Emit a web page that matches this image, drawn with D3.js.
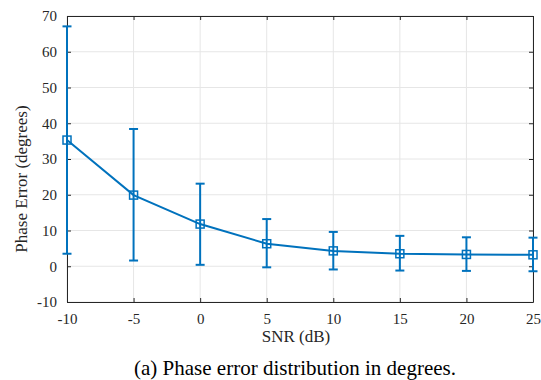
<!DOCTYPE html>
<html>
<head>
<meta charset="utf-8">
<script src="https://cdn.jsdelivr.net/npm/d3@7"></script>
<style>
  body { margin: 0; background: #fff; }
  text { font-family: "Liberation Serif", "Times New Roman", serif; }
</style>
</head>
<body>
<svg id="chart" width="541" height="380"></svg>
<script>
// Phase error vs SNR, mean with error bars
var snr = [-10, -5, 0, 5, 10, 15, 20, 25];
var meanErr = [35.3, 19.9, 11.8, 6.3, 4.3, 3.5, 3.3, 3.2];
var upperErr = [67.1, 38.4, 23.1, 13.2, 9.6, 8.5, 8.1, 8.0];
var lowerErr = [3.5, 1.6, 0.4, -0.3, -0.9, -1.2, -1.3, -1.4];
var xTicks = [-10, -5, 0, 5, 10, 15, 20, 25];
var yTicks = [-10, 0, 10, 20, 30, 40, 50, 60, 70];

var blue = "#0072BD";
var axisColor = "#262626";

var svg = d3.select('#chart');
var plotLeft = 67, plotRight = 533, plotTop = 16, plotBottom = 302;

var x = d3.scaleLinear().domain([-10, 25]).range([plotLeft, plotRight]);
var y = d3.scaleLinear().domain([-10, 70]).range([plotBottom, plotTop]);

var points = snr.map(function (s, i) {
    return { x: s, m: meanErr[i], hi: upperErr[i], lo: lowerErr[i] };
});

// grid
var grid = svg.append('g');
grid.selectAll('line.gx')
    .data(xTicks)
    .enter()
  .append('line')
    .attr('x1', d => x(d)).attr('x2', d => x(d))
    .attr('y1', plotTop).attr('y2', plotBottom)
    .style('stroke', '#e6e6e6')
    .style('stroke-width', 1);
grid.selectAll('line.gy')
    .data(yTicks)
    .enter()
  .append('line')
    .attr('x1', plotLeft).attr('x2', plotRight)
    .attr('y1', d => y(d)).attr('y2', d => y(d))
    .style('stroke', '#e6e6e6')
    .style('stroke-width', 1);

// axes (ticks inward, mirrored on top/right)
var fmt = d => String(d);
var xAxis = d3.axisBottom(x).tickValues(xTicks).tickFormat(fmt).tickSizeInner(-4).tickSizeOuter(0);
var yAxis = d3.axisLeft(y).tickValues(yTicks).tickFormat(fmt).tickSizeInner(-4).tickSizeOuter(0);

var gx = svg.append('g').attr('transform', 'translate(0,' + plotBottom + ')').call(xAxis);
var gy = svg.append('g').attr('transform', 'translate(' + plotLeft + ',0)').call(yAxis);
svg.append('g').attr('transform', 'translate(0,' + plotTop + ')')
    .call(d3.axisTop(x).tickValues(xTicks).tickSizeInner(-4).tickSizeOuter(0).tickFormat(''));
svg.append('g').attr('transform', 'translate(' + plotRight + ',0)')
    .call(d3.axisRight(y).tickValues(yTicks).tickSizeInner(-4).tickSizeOuter(0).tickFormat(''));

svg.selectAll('.domain, .tick line').style('stroke', axisColor);
svg.selectAll('.tick text')
    .style('font-family', '"Liberation Serif", serif')
    .style('font-size', '15px')
    .attr('fill', axisColor);
gx.selectAll('.tick text').attr('dy', null).attr('y', 22);
gy.selectAll('.tick text').attr('x', -10);

// error bars
var capHalf = 4.5;
var bars = svg.append('g');
bars.selectAll('line.bar')
    .data(points)
    .enter()
  .append('line')
    .attr('x1', d => x(d.x)).attr('x2', d => x(d.x))
    .attr('y1', d => y(d.lo)).attr('y2', d => y(d.hi))
    .style('stroke', blue).style('stroke-width', 2);
bars.selectAll('line.capHi')
    .data(points)
    .enter()
  .append('line')
    .attr('x1', d => x(d.x) - capHalf).attr('x2', d => x(d.x) + capHalf)
    .attr('y1', d => y(d.hi)).attr('y2', d => y(d.hi))
    .style('stroke', blue).style('stroke-width', 2);
bars.selectAll('line.capLo')
    .data(points)
    .enter()
  .append('line')
    .attr('x1', d => x(d.x) - capHalf).attr('x2', d => x(d.x) + capHalf)
    .attr('y1', d => y(d.lo)).attr('y2', d => y(d.lo))
    .style('stroke', blue).style('stroke-width', 2);

// mean line
var line = d3.line().x(d => x(d.x)).y(d => y(d.m));
svg.append('path')
    .datum(points)
    .attr('d', line)
    .style('fill', 'none')
    .style('stroke', blue)
    .style('stroke-width', 2);

// square markers
var ms = 8;
svg.selectAll('rect.marker')
    .data(points)
    .enter()
  .append('rect')
    .attr('x', d => x(d.x) - ms / 2)
    .attr('y', d => y(d.m) - ms / 2)
    .attr('width', ms).attr('height', ms)
    .style('fill', 'none')
    .style('stroke', blue)
    .style('stroke-width', 1.5);

// labels
svg.append('text')
    .attr('x', (plotLeft + plotRight) / 2 - 4)
    .attr('y', 342)
    .attr('text-anchor', 'middle')
    .attr('font-size', 17)
    .attr('fill', axisColor)
    .text('SNR (dB)');

svg.append('text')
    .attr('transform', 'translate(27,179) rotate(-90)')
    .attr('text-anchor', 'middle')
    .attr('font-size', 17)
    .attr('fill', axisColor)
    .text('Phase Error (degrees)');

svg.append('text')
    .attr('x', 295)
    .attr('y', 375)
    .attr('text-anchor', 'middle')
    .attr('font-size', 21)
    .attr('fill', '#000')
    .text('(a) Phase error distribution in degrees.');
</script>
</body>
</html>
